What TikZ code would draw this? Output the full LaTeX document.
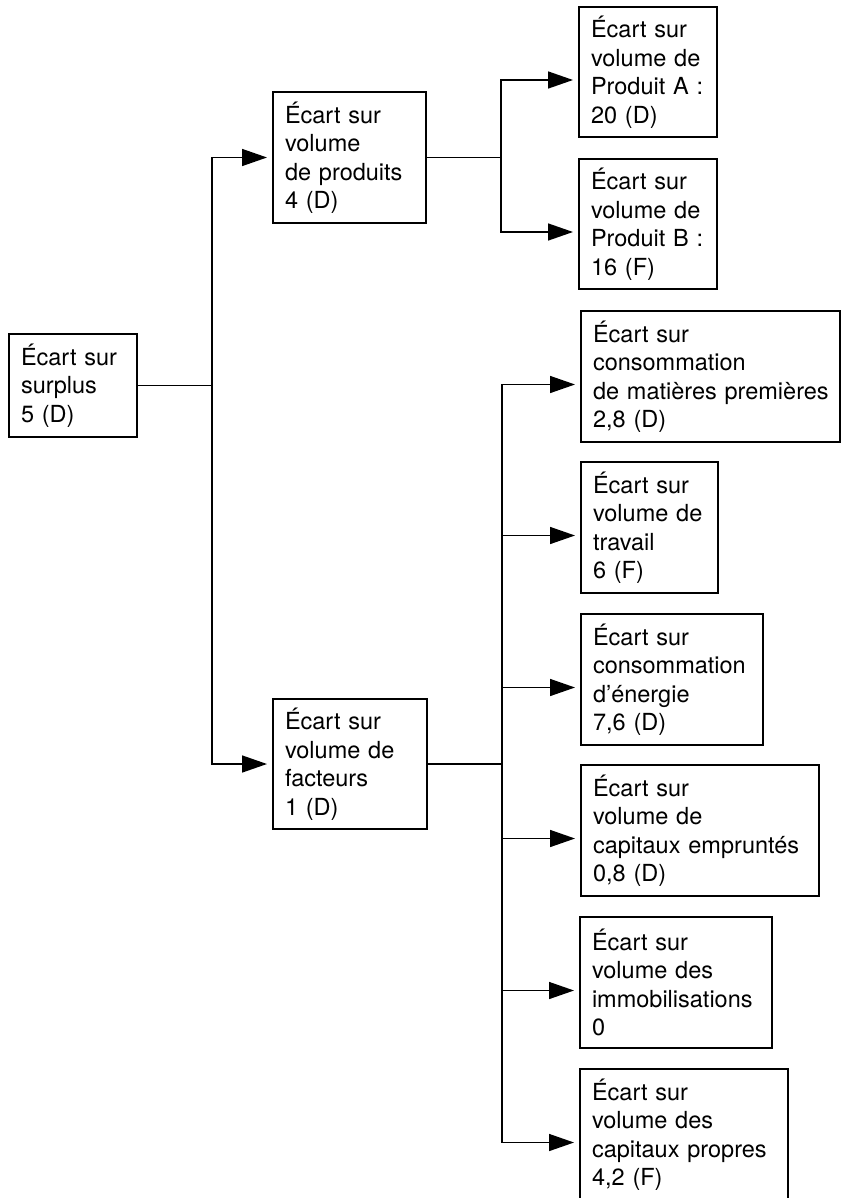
\documentclass[tikz,border=0pt]{standalone}
\usepackage{fontspec}
\setmainfont[WordSpace=1.4]{TeX Gyre Heros}
\usetikzlibrary{arrows.meta}
\hyphenpenalty=10000
\exhyphenpenalty=10000
\tikzset{
  box/.style={draw, line width=1.5pt, rectangle, inner xsep=12pt, inner ysep=3pt,
    outer sep=0pt, align=left, anchor=north west,
    font=\fontsize{23.5}{28.5}\selectfont},
  conn/.style={line width=1.5pt},
  arr/.style={conn, -{Triangle[length=25pt,width=17pt]}, shorten >=6pt}
}
\begin{document}
\begin{tikzpicture}[x=1pt,y=-1pt]
\useasboundingbox (0,0) rectangle (841,1198);
% level 1
\node[box, minimum width=128pt, text width=104pt, minimum height=103pt] (s) at (9,334)
  {Écart sur\\surplus\\5 (D)};
% level 2
\node[box, minimum width=153pt, text width=129pt, minimum height=131pt] (p) at (273,92)
  {Écart sur\\volume\\\mbox{de produits}\\4 (D)};
\node[box, minimum width=154pt, text width=130pt, minimum height=130pt] (f) at (273,699)
  {Écart sur\\volume de\\facteurs\\1 (D)};
% level 3, products
\node[box, minimum width=138pt, text width=114pt, minimum height=130pt] (a) at (579,7)
  {Écart sur\\volume de\\\mbox{Produit A :}\\20 (D)};
\node[box, minimum width=138pt, text width=114pt, minimum height=130pt] (b) at (579,159)
  {Écart sur\\volume de\\\mbox{Produit B :}\\16 (F)};
% level 3, factors
\node[box, minimum width=259pt, text width=235pt, minimum height=131pt] (m) at (581,311)
  {Écart sur\\consommation\\\mbox{de matières premières}\\2,8 (D)};
\node[box, minimum width=137pt, text width=113pt, minimum height=131pt] (w) at (581,462)
  {Écart sur\\volume de\\travail\\6 (F)};
\node[box, minimum width=182pt, text width=158pt, minimum height=131pt] (e) at (581,614)
  {Écart sur\\consommation\\d’énergie\\7,6 (D)};
\node[box, minimum width=238pt, text width=214pt, minimum height=131pt] (k) at (581,765)
  {Écart sur\\volume de\\\mbox{capitaux empruntés}\\0,8 (D)};
\node[box, minimum width=192pt, text width=168pt, minimum height=131pt] (i) at (580,917)
  {Écart sur\\volume des\\immobilisations\\0};
\node[box, minimum width=208pt, text width=184pt, minimum height=131pt] (c) at (580,1069)
  {Écart sur\\volume des\\\mbox{capitaux propres}\\4,2 (F)};
% trunks
\coordinate (t1) at (212,0);
\coordinate (t2) at (501,0);
\coordinate (t3) at (502,0);
% connectors level 1 -> 2
\draw[conn] (s.east) -- (t1 |- s.east);
\draw[arr] (t1 |- s.east) |- (p.west);
\draw[arr] (t1 |- s.east) |- (f.west);
% produits -> A, B
\draw[conn] (p.east) -- (t2 |- p.east);
\draw[arr] (t2 |- p.east) |- ([yshift=-8pt]a.west);
\draw[arr] (t2 |- p.east) |- ([yshift=-8pt]b.west);
% facteurs -> six boxes
\draw[conn] (f.east) -- (t3 |- f.east);
\foreach \n in {m,w,e,k,i,c}{
  \draw[arr] (t3 |- f.east) |- ([yshift=-8pt]\n.west);
}
\end{tikzpicture}
\end{document}
